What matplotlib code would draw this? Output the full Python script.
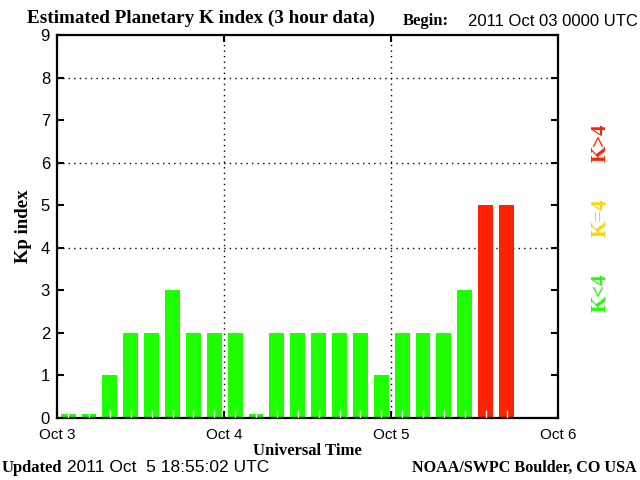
#!/usr/bin/env python3

import numpy as np
import matplotlib.pyplot as plt

# Kp values, one per 3 hour slot starting 2011 Oct 03 0000 UTC
kp_values = [0, 0, 1, 2, 2, 3, 2, 2,
             2, 0, 2, 2, 2, 2, 2, 1,
             2, 2, 2, 3, 5, 5]
day_labels = ['Oct 3', 'Oct 4', 'Oct 5', 'Oct 6']
kp_ticks = list(range(10))

GREEN = '#1eff00'
GOLD = '#ffd200'
RED = '#ff2200'
SERIF = 'Liberation Serif'
SANS = 'Liberation Sans'


def bar_colour(k):
    if k < 4:
        return GREEN
    if k == 4:
        return GOLD
    return RED


def main():
    fig = plt.figure(figsize=(6.4, 4.8), dpi=100)
    ax = fig.add_axes([57 / 640, 62 / 480, 501 / 640, 383 / 480])

    hours = np.arange(len(kp_values)) * 3 + 1.6
    heights = [max(k, 0.1) for k in kp_values]
    colours = [bar_colour(k) for k in kp_values]
    ax.bar(hours, heights, width=2.15, color=colours, zorder=2)
    # small white marks at the foot of each bar
    ax.vlines(hours, 0, 0.18, color='white', lw=1.0, zorder=3)

    ax.set_xlim(0, 72)
    ax.set_ylim(0, 9)
    ax.set_xticks([0, 24, 48, 72])
    ax.set_xticklabels(day_labels, family=SANS, fontsize=11)
    ax.set_yticks(kp_ticks)
    ax.set_yticklabels([str(k) for k in kp_ticks], family=SANS, fontsize=12)
    ax.tick_params(direction='in', length=5, width=1.5, top=True, right=True, pad=5)
    ax.tick_params(axis='x', pad=7)

    for y in (4, 6, 8):
        ax.axhline(y, color='black', lw=1, ls=(0, (1, 3)), zorder=1)
    for x in (24, 48):
        ax.axvline(x, color='black', lw=1, ls=(0, (1, 3)), zorder=1)

    for s in ax.spines.values():
        s.set_linewidth(1.6)

    ax.set_xlabel('Universal Time', family=SERIF, fontweight='bold', fontsize=12, labelpad=1)
    ax.set_ylabel('Kp index', family=SERIF, fontweight='bold', fontsize=13.5, labelpad=6)

    fig.text(27 / 640, 1 - 18 / 480, 'Estimated Planetary K index (3 hour data)',
             family=SERIF, fontweight='bold', fontsize=13.8, va='center')
    fig.text(403 / 640, 1 - 21 / 480, 'Begin:', family=SERIF, fontweight='bold',
             fontsize=12, va='center')
    fig.text(638 / 640, 1 - 21 / 480, '2011 Oct 03 0000 UTC', family=SANS,
             fontsize=12, va='center', ha='right')

    fig.text(2 / 640, 1 - 468 / 480, 'Updated', family=SERIF, fontweight='bold',
             fontsize=12, va='center')
    fig.text(67 / 640, 1 - 468 / 480, '2011 Oct  5 18:55:02 UTC', family=SANS,
             fontsize=12.5, va='center')
    fig.text(637 / 640, 1 - 468 / 480, 'NOAA/SWPC Boulder, CO USA', family=SERIF,
             fontweight='bold', fontsize=11.6, va='center', ha='right')

    for label, colour, yc in (('K<4', GREEN, 293), ('K=4', GOLD, 218), ('K>4', RED, 143)):
        fig.text(601 / 640, 1 - yc / 480, label, color=colour, family=SERIF,
                 fontweight='bold', fontsize=15, rotation=90, ha='center', va='center')

    fig.savefig('out.png', dpi=100)


if __name__ == '__main__':
    main()
